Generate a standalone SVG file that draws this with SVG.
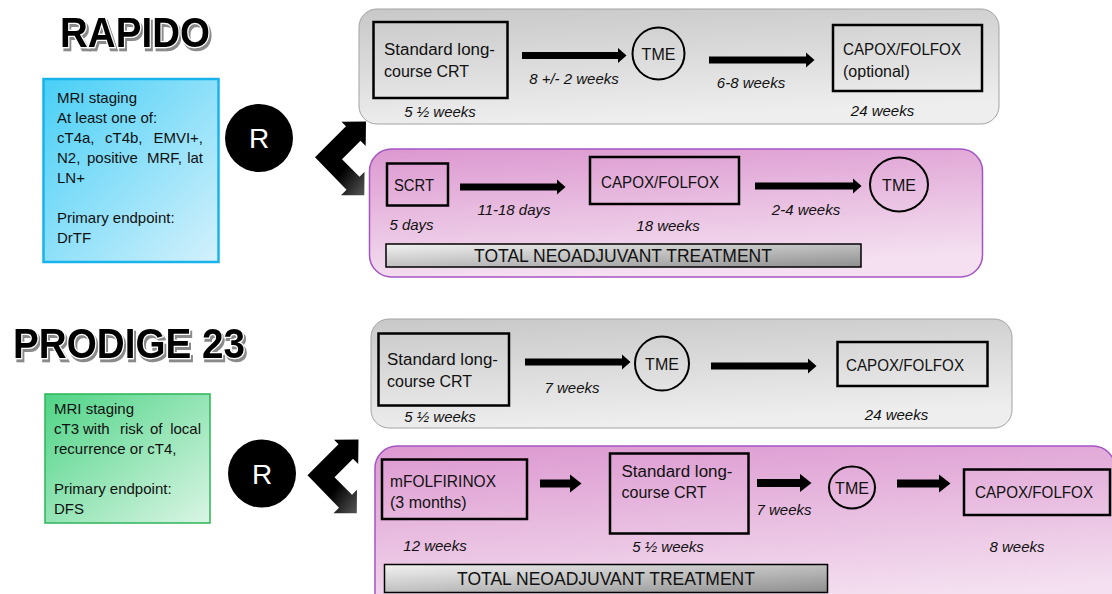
<svg xmlns="http://www.w3.org/2000/svg" width="1112" height="594" viewBox="0 0 1112 594">
<defs>
  <linearGradient id="gGray" x1="0" y1="0" x2="0.25" y2="1">
    <stop offset="0" stop-color="#c8c8c8"/>
    <stop offset="1" stop-color="#eeeeee"/>
  </linearGradient>
  <linearGradient id="gPink" x1="0" y1="0" x2="0.25" y2="1">
    <stop offset="0" stop-color="#dc98d0"/>
    <stop offset="1" stop-color="#f4e0f0"/>
  </linearGradient>
  <linearGradient id="gBlue" x1="0" y1="0" x2="1" y2="1">
    <stop offset="0" stop-color="#48cff6"/>
    <stop offset="1" stop-color="#d4f1fc"/>
  </linearGradient>
  <linearGradient id="gGreen" x1="0" y1="0" x2="1" y2="1">
    <stop offset="0" stop-color="#4fd486"/>
    <stop offset="1" stop-color="#daf5e5"/>
  </linearGradient>
  <linearGradient id="gBar" x1="0" y1="0" x2="1" y2="1">
    <stop offset="0" stop-color="#f2f2f2"/>
    <stop offset="1" stop-color="#8e8e8e"/>
  </linearGradient>
  <linearGradient id="gBent" x1="0" y1="0" x2="1" y2="1">
    <stop offset="0" stop-color="#000"/>
    <stop offset="0.6" stop-color="#000"/>
    <stop offset="1" stop-color="#5a5a5a"/>
  </linearGradient>
  <filter id="fShadow" x="-5%" y="-20%" width="115%" height="150%">
    <feOffset in="SourceAlpha" dx="2" dy="3" result="off"/>
    <feFlood flood-color="#8a8a8a"/>
    <feComposite in2="off" operator="in" result="sh"/>
    <feMerge>
      <feMergeNode in="sh"/>
      <feMergeNode in="SourceGraphic"/>
    </feMerge>
  </filter>
  <marker id="mS" viewBox="0 0 9 16" refX="0.5" refY="8" markerWidth="9" markerHeight="16" markerUnits="userSpaceOnUse" orient="auto">
    <path d="M0,0 L9,8 L0,16 z" fill="#000"/>
  </marker>
  <marker id="mB" viewBox="0 0 12 19" refX="0.5" refY="9.5" markerWidth="12" markerHeight="19" markerUnits="userSpaceOnUse" orient="auto">
    <path d="M0,0 L12,9.5 L0,19 z" fill="#000"/>
  </marker>
  <polygon id="bent" points="315,157.3 346,126.3 341.5,121.8 366,121.5 365.7,146 360.5,140.8 342,159.3 359.5,176.8 364.5,171.8 364.3,195.3 341,195.3 346.5,189.8" fill="url(#gBent)"/>
</defs>
<style>
  .t { font-family: "Liberation Sans", Arial, sans-serif; font-size: 16px; fill: #111; }
  .s { font-size: 15px; }
  .i { font-family: "Liberation Sans", Arial, sans-serif; font-style: italic; font-size: 15px; fill: #111; text-anchor: middle; }
  .c { text-anchor: middle; }
  .e { text-anchor: end; }
  .box { fill: none; stroke: #000; stroke-width: 2.5; }
  .circ { fill: none; stroke: #000; stroke-width: 2; }
  .bar { fill: url(#gBar); stroke: #000; stroke-width: 1.5; }
  .grayp { fill: url(#gGray); stroke: #a3a3a3; stroke-width: 1; }
  .pinkp { fill: url(#gPink); stroke: #a455c4; stroke-width: 1.5; }
  .title { font-family: "Liberation Sans", Arial, sans-serif; font-weight: bold; font-size: 42px; fill: #000; stroke: #fff; stroke-width: 2.5; paint-order: stroke; filter: url(#fShadow); }
  .rc { fill: #000; }
  .rt { font-family: "Liberation Sans", Arial, sans-serif; font-size: 28px; fill: #fff; text-anchor: middle; }
  .sh { stroke: #000; stroke-width: 7; fill: none; }
  .shb { stroke: #000; stroke-width: 8; fill: none; }
</style>

<!-- Titles -->
<g id="title-rapido">
  <text class="title" x="60" y="47" textLength="150" lengthAdjust="spacingAndGlyphs">RAPIDO</text>
</g>
<g id="title-prodige">
  <text class="title" x="13" y="358" textLength="232" lengthAdjust="spacingAndGlyphs">PRODIGE 23</text>
</g>

<!-- RAPIDO criteria -->
<g id="rapido-criteria">
  <rect x="43.5" y="79" width="175" height="183" fill="url(#gBlue)" stroke="#19b3ec" stroke-width="2.5"/>
  <text class="t s" x="57" y="103">MRI staging</text>
  <text class="t s" x="57" y="123">At least one of:</text>
  <text class="t s" y="143"><tspan x="57">cT4a,</tspan><tspan x="105">cT4b,</tspan></text>
  <text class="t s e" x="203" y="143">EMVI+,</text>
  <text class="t s" y="163"><tspan x="57">N2,</tspan><tspan x="87">positive</tspan><tspan x="147">MRF,</tspan></text>
  <text class="t s e" x="203" y="163">lat</text>
  <text class="t s" x="57" y="183">LN+</text>
  <text class="t s" x="57" y="223">Primary endpoint:</text>
  <text class="t s" x="57" y="243">DrTF</text>
</g>

<g id="rapido-R">
  <circle class="rc" cx="259" cy="138" r="34"/>
  <text class="rt" x="259" y="148">R</text>
</g>

<!-- PRODIGE criteria -->
<g id="prodige-criteria">
  <rect x="45" y="394" width="165" height="129" fill="url(#gGreen)" stroke="#2cb557" stroke-width="1.5"/>
  <text class="t s" x="54" y="414">MRI staging</text>
  <text class="t s" y="434"><tspan x="54">cT3</tspan><tspan x="83">with</tspan><tspan x="120">risk</tspan><tspan x="150">of</tspan></text>
  <text class="t s e" x="201" y="434">local</text>
  <text class="t s" x="54" y="454">recurrence or cT4,</text>
  <text class="t s" x="54" y="494">Primary endpoint:</text>
  <text class="t s" x="54" y="514">DFS</text>
</g>

<g id="prodige-R">
  <circle class="rc" cx="262" cy="473.5" r="34"/>
  <text class="rt" x="262" y="483.5">R</text>
</g>

<!-- Panels -->
<g id="rapido-standard-panel">
  <rect class="grayp" x="359" y="9" width="640" height="115" rx="18"/>
</g>
<g id="rapido-tnt-panel">
  <rect class="pinkp" x="369.5" y="149" width="613" height="128" rx="22"/>
</g>
<g id="prodige-standard-panel">
  <rect class="grayp" x="371" y="319" width="641" height="109" rx="18"/>
</g>
<g id="prodige-tnt-panel">
  <rect class="pinkp" x="375" y="446" width="740" height="170" rx="22"/>
</g>

<!-- RAPIDO standard arm -->
<g id="r1-crt">
  <rect class="box" x="373.5" y="22" width="134" height="76"/>
  <text class="t" x="384" y="55" textLength="111" lengthAdjust="spacingAndGlyphs">Standard long-</text>
  <text class="t" x="384" y="77">course CRT</text>
  <text class="i" x="440" y="117">5 ½ weeks</text>
</g>
<g id="r1-tme">
  <circle class="circ" cx="658.5" cy="53.5" r="26"/>
  <text class="t c" x="658.5" y="60">TME</text>
</g>
<g id="r1-capox">
  <rect class="box" x="833" y="25" width="149" height="66"/>
  <text class="t" x="843" y="55" textLength="118" lengthAdjust="spacingAndGlyphs">CAPOX/FOLFOX</text>
  <text class="t" x="843" y="77">(optional)</text>
  <text class="i" x="882.5" y="116">24 weeks</text>
</g>

<!-- RAPIDO TNT arm -->
<g id="r2-scrt">
  <rect class="box" x="387" y="163.5" width="61" height="42"/>
  <text class="t" x="394" y="190.5" textLength="40" lengthAdjust="spacingAndGlyphs">SCRT</text>
  <text class="i" x="411.5" y="229.5">5 days</text>
</g>
<g id="r2-capox">
  <rect class="box" x="590" y="157" width="149" height="47"/>
  <text class="t" x="601" y="188" textLength="118" lengthAdjust="spacingAndGlyphs">CAPOX/FOLFOX</text>
  <text class="i" x="668" y="230.5">18 weeks</text>
</g>
<g id="r2-tme">
  <ellipse class="circ" cx="899" cy="184.5" rx="29" ry="27"/>
  <text class="t c" x="899" y="191">TME</text>
</g>
<g id="r2-tnt">
  <rect class="bar" x="386" y="244" width="475" height="23"/>
  <text class="t c" x="623" y="262" style="font-size:17.5px">TOTAL NEOADJUVANT TREATMENT</text>
</g>

<!-- PRODIGE standard arm -->
<g id="p1-crt">
  <rect class="box" x="378.5" y="333.5" width="130.5" height="72"/>
  <text class="t" x="387" y="365" textLength="111" lengthAdjust="spacingAndGlyphs">Standard long-</text>
  <text class="t" x="387" y="387">course CRT</text>
  <text class="i" x="440" y="421.5">5 ½ weeks</text>
</g>
<g id="p1-tme">
  <circle class="circ" cx="662" cy="363.5" r="27"/>
  <text class="t c" x="662" y="370">TME</text>
</g>
<g id="p1-capox">
  <rect class="box" x="837.5" y="342" width="150" height="44"/>
  <text class="t" x="846" y="371" textLength="118" lengthAdjust="spacingAndGlyphs">CAPOX/FOLFOX</text>
  <text class="i" x="896.5" y="420">24 weeks</text>
</g>

<!-- PRODIGE TNT arm -->
<g id="p2-mfolfirinox">
  <rect class="box" x="382" y="459.5" width="145" height="59.5"/>
  <text class="t" x="390" y="486.5" textLength="106" lengthAdjust="spacingAndGlyphs">mFOLFIRINOX</text>
  <text class="t" x="390" y="508">(3 months)</text>
  <text class="i" x="435" y="551">12 weeks</text>
</g>
<g id="p2-crt">
  <rect class="box" x="610" y="453.5" width="138.5" height="80"/>
  <text class="t" x="621.5" y="476.5" textLength="111" lengthAdjust="spacingAndGlyphs">Standard long-</text>
  <text class="t" x="621.5" y="497.5">course CRT</text>
  <text class="i" x="668" y="552">5 ½ weeks</text>
</g>
<g id="p2-tme">
  <ellipse class="circ" cx="852" cy="487.5" rx="23" ry="21"/>
  <text class="t c" x="852" y="493.5">TME</text>
</g>
<g id="p2-capox">
  <rect class="box" x="964" y="469.5" width="146" height="45.5"/>
  <text class="t" x="975" y="498" textLength="118" lengthAdjust="spacingAndGlyphs">CAPOX/FOLFOX</text>
  <text class="i" x="1017" y="552">8 weeks</text>
</g>
<g id="p2-tnt">
  <rect class="bar" x="384.5" y="564.5" width="443" height="28"/>
  <text class="t c" x="606" y="585" style="font-size:17.5px">TOTAL NEOADJUVANT TREATMENT</text>
</g>

<!-- Connectors -->
<g id="connectors">
  <use href="#bent"/>
  <use href="#bent" transform="translate(-7.5,318)"/>
  <line class="sh" x1="522" y1="55.5" x2="618" y2="55.5" marker-end="url(#mS)"/>
  <text class="i" x="574" y="83.5">8 +/- 2 weeks</text>
  <line class="sh" x1="709" y1="60" x2="806" y2="60" marker-end="url(#mS)"/>
  <text class="i" x="751" y="88">6-8 weeks</text>

  <line class="sh" x1="460" y1="187" x2="557" y2="187" marker-end="url(#mS)"/>
  <text class="i" x="514" y="215">11-18 days</text>
  <line class="sh" x1="755" y1="186" x2="853" y2="186" marker-end="url(#mS)"/>
  <text class="i" x="806" y="215">2-4 weeks</text>

  <line class="sh" x1="525" y1="362" x2="622" y2="362" marker-end="url(#mS)"/>
  <text class="i" x="572" y="392.5">7 weeks</text>
  <line class="sh" x1="711" y1="366" x2="808" y2="366" marker-end="url(#mS)"/>

  <line class="shb" x1="540" y1="483.5" x2="570" y2="483.5" marker-end="url(#mB)"/>
  <line class="shb" x1="757" y1="483" x2="800" y2="483" marker-end="url(#mB)"/>
  <text class="i" x="784" y="515">7 weeks</text>
  <line class="shb" x1="897" y1="483.5" x2="939" y2="483.5" marker-end="url(#mB)"/>
</g>
</svg>
